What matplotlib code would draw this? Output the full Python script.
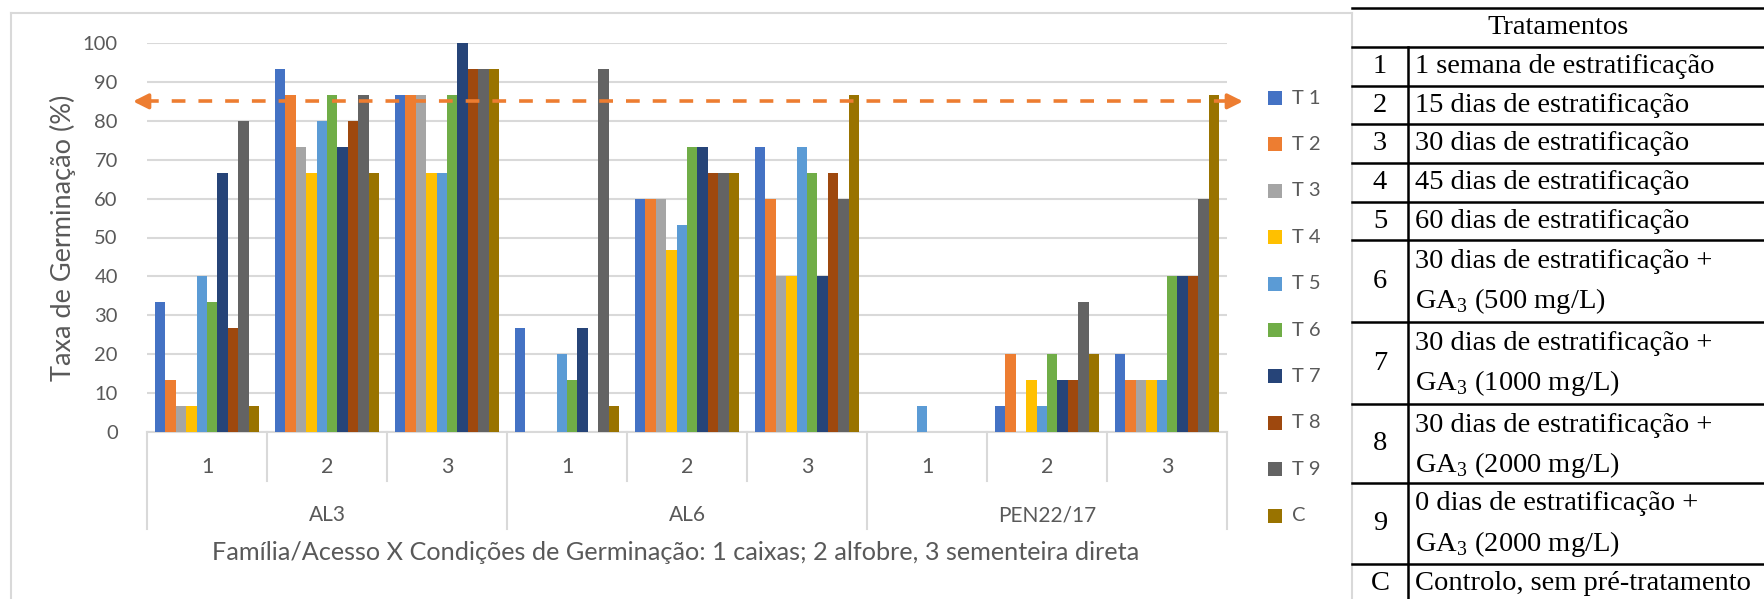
import matplotlib
matplotlib.use("Agg")
import matplotlib.pyplot as plt
from matplotlib.lines import Line2D
from matplotlib.patches import Rectangle
import numpy as np

# ---- data ----
families = ["AL3", "AL6", "PEN22/17"]
conditions = ["1", "2", "3"]
series = ["T 1", "T 2", "T 3", "T 4", "T 5", "T 6", "T 7", "T 8", "T 9", "C"]
t1 = [33.3, 93.3, 86.7, 26.7, 60.0, 73.3, 0.0, 6.7, 20.0]
t2 = [13.3, 86.7, 86.7, 0.0, 60.0, 60.0, 0.0, 20.0, 13.3]
t3 = [6.7, 73.3, 86.7, 0.0, 60.0, 40.0, 0.0, 0.0, 13.3]
t4 = [6.7, 66.7, 66.7, 0.0, 46.7, 40.0, 0.0, 13.3, 13.3]
t5 = [40.0, 80.0, 66.7, 20.0, 53.3, 73.3, 6.7, 6.7, 13.3]
t6 = [33.3, 86.7, 86.7, 13.3, 73.3, 66.7, 0.0, 20.0, 40.0]
t7 = [66.7, 73.3, 100.0, 26.7, 73.3, 40.0, 0.0, 13.3, 40.0]
t8 = [26.7, 80.0, 93.3, 0.0, 66.7, 66.7, 0.0, 13.3, 40.0]
t9 = [80.0, 86.7, 93.3, 93.3, 66.7, 60.0, 0.0, 33.3, 60.0]
ctrl = [6.7, 66.7, 93.3, 6.7, 66.7, 86.7, 0.0, 20.0, 86.7]
values = [t1, t2, t3, t4, t5, t6, t7, t8, t9, ctrl]
threshold = 85
yticks = list(range(0, 101, 10))

tab_ids = ["1", "2", "3", "4", "5", "6", "7", "8", "9", "C"]
tab_lines = [
    ["1 semana de estratificação"],
    ["15 dias de estratificação"],
    ["30 dias de estratificação"],
    ["45 dias de estratificação"],
    ["60 dias de estratificação"],
    ["30 dias de estratificação +", "GA$_3$ (500 mg/L)"],
    ["30 dias de estratificação +", "GA$_3$ (1000 mg/L)"],
    ["30 dias de estratificação +", "GA$_3$ (2000 mg/L)"],
    ["0 dias de estratificação +", "GA$_3$ (2000 mg/L)"],
    ["Controlo, sem pré-tratamento"],
]

colors = ["#4472C4", "#ED7D31", "#A5A5A5", "#FFC000", "#5B9BD5",
          "#70AD47", "#264478", "#9E480E", "#636363", "#997300"]
TXT = "#595959"
GRID = "#D9D9D9"

plt.rcParams["font.family"] = ["Lato", "DejaVu Sans"]
plt.rcParams["mathtext.fontset"] = "custom"
plt.rcParams["mathtext.rm"] = "Liberation Serif"

W, H = 1764, 599
fig = plt.figure(figsize=(W / 100, H / 100), dpi=100)


def fx(x):
    return x / W


def fy(y):
    return 1 - y / H


def hline(x0, x1, y, **kw):
    fig.add_artist(Line2D([fx(x0), fx(x1)], [fy(y), fy(y)], **kw))


def vline(x, y0, y1, **kw):
    fig.add_artist(Line2D([fx(x), fx(x)], [fy(y0), fy(y1)], **kw))


# chart border
vline(11, 13, 605, color=GRID, lw=1.5)
hline(11, 1352, 13, color=GRID, lw=1.5)
vline(1352, 13, 605, color=GRID, lw=1.5)

# ---- bar chart ----
L, R, T, B = 147, 1227, 43, 432
ax = fig.add_axes([fx(L), fy(B), fx(R) - fx(L), (B - T) / H])
ngroups = len(families) * len(conditions)
nser = len(series)
bw = 0.867 / nser
x0 = np.arange(ngroups) + (1 - 0.867) / 2
for i, (name, vals) in enumerate(zip(series, values)):
    ax.bar(x0 + (i + 0.5) * bw, vals, width=bw, color=colors[i], lw=0, zorder=3)

ax.set_xlim(0, ngroups)
ax.set_ylim(0, 100)
ax.set_yticks(yticks)
ax.yaxis.grid(True, color=GRID, lw=1.5, zorder=0)
ax.tick_params(axis="y", length=0, labelsize=14.5, labelcolor=TXT, pad=21)
ax.set_xticks([])
for s in ["top", "right", "left"]:
    ax.spines[s].set_visible(False)
ax.spines["bottom"].set_color(GRID)
ax.spines["bottom"].set_linewidth(1.5)
ax.set_ylabel("Taxa de Germinação (%)", fontsize=19.5, color=TXT, va="center")
ax.yaxis.set_label_coords((63 - L) / (R - L), (B - 238) / (B - T))

# multi-level category axis
xt = ax.get_xaxis_transform()
ppy = B - T
for g in range(ngroups + 1):
    depth = 97 if g % 3 == 0 else 49
    ax.plot([g, g], [0, -depth / ppy], transform=xt, color=GRID, lw=1.5,
            clip_on=False)
for g in range(ngroups):
    ax.text(g + 0.5, -35 / ppy, conditions[g % 3], transform=xt, ha="center",
            va="center", fontsize=15.5, color=TXT)
for k, fam in enumerate(families):
    ax.text(3 * k + 1.5, -83 / ppy, fam, transform=xt, ha="center",
            va="center", fontsize=15, color=TXT)
ax.text((676 - L) / 120, -121 / ppy,
        "Família/Acesso X Condições de Germinação: 1 caixas; 2 alfobre, 3 sementeira direta",
        transform=xt, ha="center", va="center", fontsize=18.2, color=TXT)

# threshold dashed arrow
xa, xb = (133 - L) / 120, (1243 - L) / 120
ax.plot([xa + 0.1, xb - 0.1], [threshold, threshold], color="#ED7D31", lw=2.6,
        dashes=(3.8, 3.6), clip_on=False, zorder=5)
for tip, tail in [(xa, xa + 0.13), (xb, xb - 0.13)]:
    ax.annotate("", xy=(tip, threshold), xytext=(tail, threshold),
                arrowprops=dict(arrowstyle="-|>,head_length=0.9,head_width=0.45",
                                color="#ED7D31", lw=2.6, shrinkA=0, shrinkB=0),
                annotation_clip=False, zorder=5)

# legend
for i, name in enumerate(series):
    yc = 98 + i * 46.4
    fig.add_artist(Rectangle((fx(1268), fy(yc + 7)), 14 / W, 14 / H,
                             color=colors[i], lw=0))
    fig.text(fx(1292), fy(yc), name, ha="left", va="center", fontsize=14.5,
             color=TXT)

# ---- treatments table ----
TL, TC, TR = 1352, 1408, 1764
serif = ["Liberation Serif", "DejaVu Serif"]
row_edges = [47, 86, 124, 163, 202, 240, 322, 404, 483, 564, 603]
lk = dict(color="black", lw=1.8)
hline(TL, TR, 8, **lk)
for y in row_edges:
    hline(TL, TR, y, **lk)
vline(TC, 47, 603, **lk)
fig.text(fx((TL + TR) / 2), fy(28), "Tratamentos", ha="center", va="center",
         fontsize=20.5, family=serif)
for k, tid in enumerate(tab_ids):
    top, bot = row_edges[k], row_edges[k + 1]
    fig.text(fx((TL + TC) / 2), fy((top + bot) / 2), tid, ha="center",
             va="center", fontsize=20.5, family=serif)
    lines = tab_lines[k]
    for j, ln in enumerate(lines):
        yc = (top + bot) / 2 if len(lines) == 1 else top + 21 + 40 * j
        fig.text(fx(1415), fy(yc), ln, ha="left", va="center", fontsize=20.5,
                 family=serif)

fig.savefig("out.png", dpi=100)
